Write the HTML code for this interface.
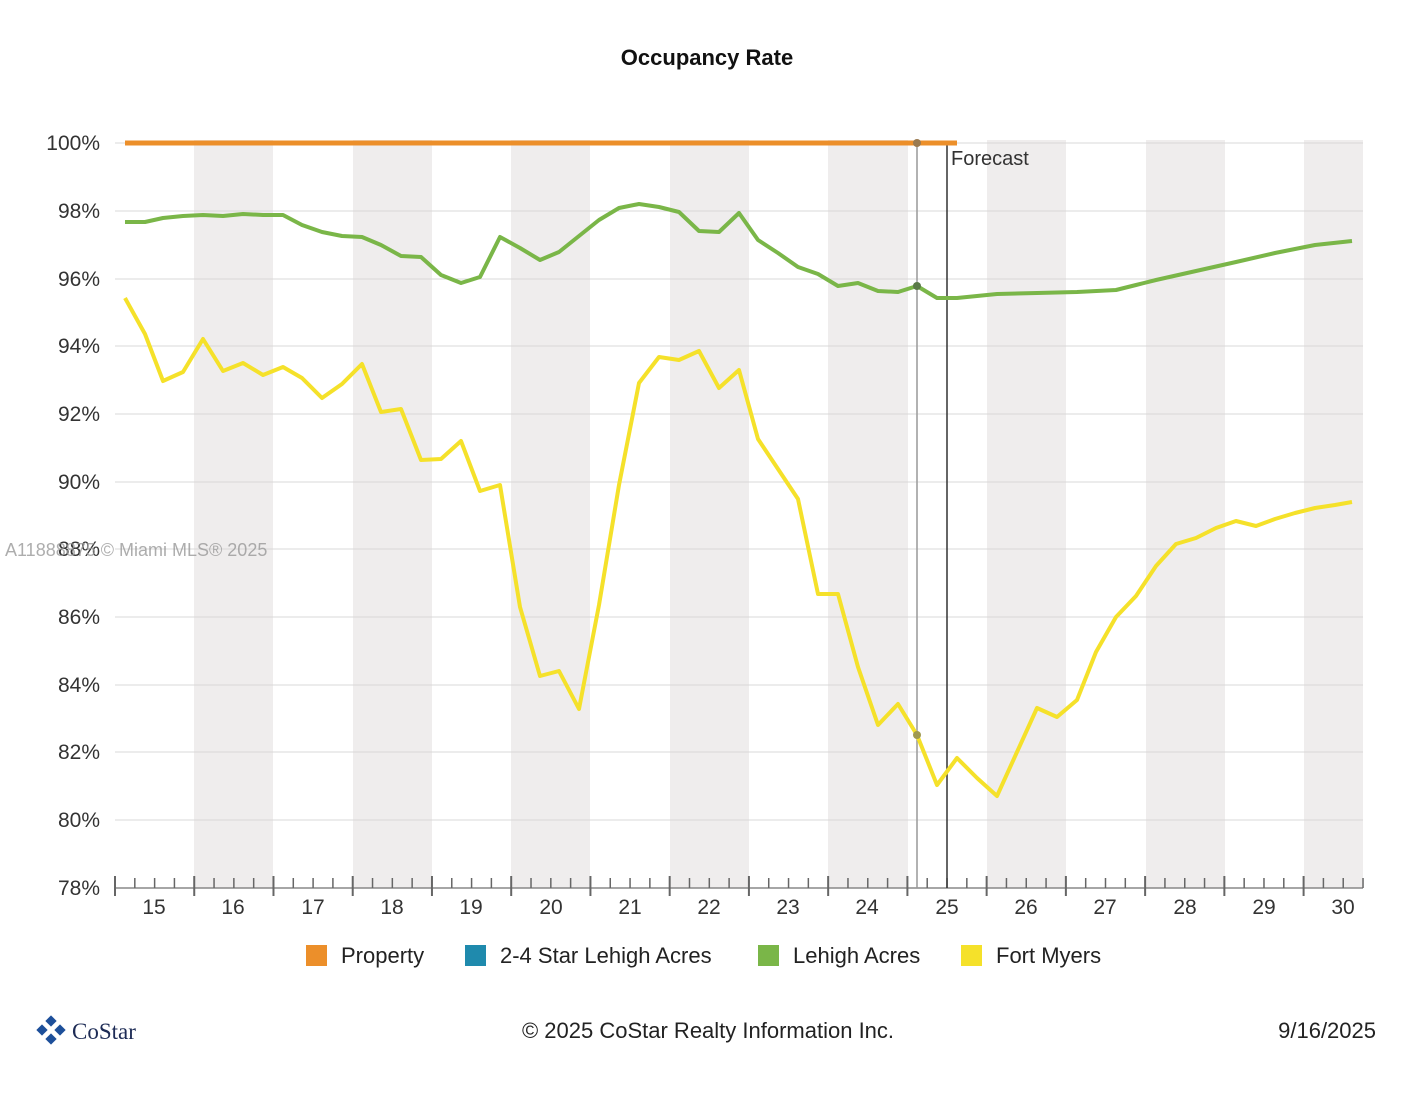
<!DOCTYPE html>
<html><head><meta charset="utf-8"><style>
body{margin:0;background:#fff;width:1419px;height:1100px;overflow:hidden;font-family:"Liberation Sans",sans-serif;}
</style></head><body>
<svg width="1419" height="1100" xmlns="http://www.w3.org/2000/svg" font-family="Liberation Sans, sans-serif">
<text x="707" y="65" text-anchor="middle" font-size="22" font-weight="bold" fill="#111">Occupancy Rate</text>
<g fill="#efeded">
<rect x="194" y="140" width="79" height="748"/><rect x="353" y="140" width="79" height="748"/>
<rect x="511" y="140" width="79" height="748"/><rect x="670" y="140" width="79" height="748"/>
<rect x="828" y="140" width="80" height="748"/><rect x="987" y="140" width="79" height="748"/>
<rect x="1146" y="140" width="79" height="748"/><rect x="1304" y="140" width="59" height="748"/>
</g>
<g stroke="#d8d8d8" stroke-width="1">
<line x1="115" x2="1363" y1="143" y2="143"/><line x1="115" x2="1363" y1="211" y2="211"/>
<line x1="115" x2="1363" y1="279" y2="279"/><line x1="115" x2="1363" y1="346" y2="346"/>
<line x1="115" x2="1363" y1="414" y2="414"/><line x1="115" x2="1363" y1="482" y2="482"/>
<line x1="115" x2="1363" y1="549" y2="549"/><line x1="115" x2="1363" y1="617" y2="617"/>
<line x1="115" x2="1363" y1="685" y2="685"/><line x1="115" x2="1363" y1="752" y2="752"/>
<line x1="115" x2="1363" y1="820" y2="820"/>
</g>
<line x1="115" x2="1363" y1="888" y2="888" stroke="#888" stroke-width="1.5"/>
<g fill="#333" font-size="21" text-anchor="end">
<text x="100" y="150">100%</text><text x="100" y="218">98%</text><text x="100" y="286">96%</text>
<text x="100" y="353">94%</text><text x="100" y="421">92%</text><text x="100" y="489">90%</text>
<text x="100" y="556">88%</text><text x="100" y="624">86%</text><text x="100" y="692">84%</text>
<text x="100" y="759">82%</text><text x="100" y="827">80%</text><text x="100" y="895">78%</text>
</g>
<g stroke="#666" stroke-width="2" id="ticks"></g>
<g fill="#333" font-size="21" text-anchor="middle">
<text x="154" y="914">15</text><text x="233" y="914">16</text><text x="313" y="914">17</text><text x="392" y="914">18</text>
<text x="471" y="914">19</text><text x="551" y="914">20</text><text x="630" y="914">21</text><text x="709" y="914">22</text>
<text x="788" y="914">23</text><text x="867" y="914">24</text><text x="947" y="914">25</text><text x="1026" y="914">26</text>
<text x="1105" y="914">27</text><text x="1185" y="914">28</text><text x="1264" y="914">29</text><text x="1343" y="914">30</text>
</g>
<line x1="917" x2="917" y1="143" y2="888" stroke="#999" stroke-width="1.5"/>
<line x1="947" x2="947" y1="143" y2="888" stroke="#333" stroke-width="1.5"/>
<text x="951" y="165" font-size="20" fill="#333">Forecast</text>
<line x1="125" x2="957" y1="143" y2="143" stroke="#ec8f2a" stroke-width="5"/>
<polyline fill="none" stroke="#7ab648" stroke-width="4" stroke-linejoin="round" points="125,222 145,222 163,218 183,216 203,215 223,216 243,214 263,215 283,215 302,225 322,232 342,236 362,237 381,245 401,256 421,257 441,275 461,283 480,277 500,237 520,248 540,260 559,252 579,236 599,220 619,208 639,204 659,207 679,212 699,231 719,232 739,213 758,240 778,253 798,267 818,274 838,286 858,283 878,291 898,292 917,286 937,298 957,298 977,296 997,294 1037,293 1077,292 1116,290 1136,285 1156,280 1196,271 1236,262 1275,253 1315,245 1352,241"/>
<polyline fill="none" stroke="#f5e12a" stroke-width="4" stroke-linejoin="round" points="125,298 145,334 163,381 183,372 203,339 223,371 243,363 263,375 283,367 302,378 322,398 342,384 362,364 381,412 401,409 421,460 441,459 461,441 480,491 500,485 520,607 540,676 559,671 579,709 599,605 619,485 639,383 659,357 679,360 699,351 719,388 739,370 758,439 778,469 798,499 818,594 838,594 858,667 878,725 898,704 917,735 937,785 957,758 977,778 997,796 1017,752 1037,708 1057,717 1077,700 1096,652 1116,617 1136,596 1156,566 1176,544 1196,538 1216,528 1236,521 1256,526 1275,519 1295,513 1315,508 1335,505 1352,502"/>
<circle cx="917" cy="143" r="4" fill="#9a7a50"/><circle cx="917" cy="286" r="4" fill="#5a7a48"/><circle cx="917" cy="735" r="4" fill="#a09a50"/>
<text x="5" y="556" font-size="18" fill="#999" opacity="0.8">A11888875 © Miami MLS® 2025</text>
<g font-size="22" fill="#222">
<rect x="306" y="945" width="21" height="21" fill="#ec8f2a"/><text x="341" y="963">Property</text>
<rect x="465" y="945" width="21" height="21" fill="#1f8aad"/><text x="500" y="963">2-4 Star Lehigh Acres</text>
<rect x="758" y="945" width="21" height="21" fill="#7ab648"/><text x="793" y="963">Lehigh Acres</text>
<rect x="961" y="945" width="21" height="21" fill="#f5e12a"/><text x="996" y="963">Fort Myers</text>
</g>
<g transform="translate(51,1030)" fill="#1d4f9a">
<rect x="-13" y="-4" width="8" height="8" transform="rotate(45 -9 0)"/>
<rect x="5" y="-4" width="8" height="8" transform="rotate(45 9 0)"/>
<rect x="-4" y="-13" width="8" height="8" transform="rotate(45 0 -9)"/>
<rect x="-4" y="5" width="8" height="8" transform="rotate(45 0 9)"/>
</g>
<text x="72" y="1039" font-size="23" fill="#1d2b55" font-family="Liberation Serif, serif">CoStar</text>
<text x="708" y="1038" text-anchor="middle" font-size="22" fill="#222">© 2025 CoStar Realty Information Inc.</text>
<text x="1376" y="1038" text-anchor="end" font-size="22" fill="#222">9/16/2025</text>
</svg>
<script>
var g=document.getElementById('ticks'),s='';
for(var i=0;i<=63;i++){var x=115+i*19.81;var big=i%4==0;s+='<line x1="'+x+'" x2="'+x+'" y1="'+(big?876:878)+'" y2="'+(big?896:888)+'" stroke-width="'+(big?2:1.5)+'"/>';}
g.innerHTML=s;
</script>
</body></html>
